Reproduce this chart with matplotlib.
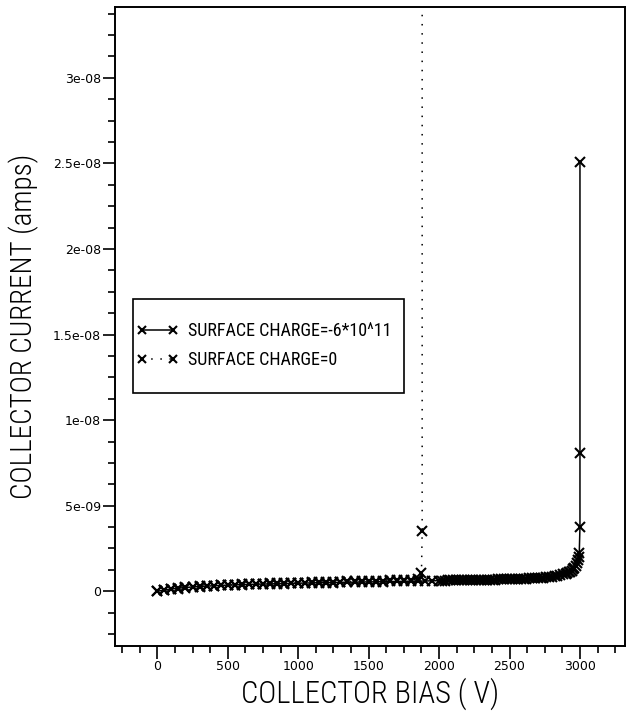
import matplotlib
matplotlib.use('Agg')
import matplotlib.pyplot as plt
from matplotlib.patches import Rectangle
from matplotlib.ticker import MultipleLocator, FixedLocator
import numpy as np

# collector bias (V) and collector current (amps)
bias_neg = [0, 50, 100, 150, 200, 250, 300, 350, 400, 450, 500, 550, 600, 650,
            700, 750, 800, 850, 900, 950, 1000, 1050, 1100, 1150, 1200, 1250,
            1300, 1350, 1400, 1450, 1500, 1550, 1600, 1650, 1700, 1750, 1800,
            1850, 1900, 1950, 2000, 2020, 2040, 2060, 2080, 2100, 2120, 2140,
            2160, 2180, 2200, 2220, 2240, 2260, 2280, 2300, 2320, 2340, 2360,
            2380, 2400, 2420, 2440, 2460, 2480, 2500, 2520, 2540, 2560, 2580,
            2600, 2620, 2640, 2660, 2680, 2700, 2720, 2740, 2760, 2780, 2800,
            2820, 2840, 2860, 2880, 2900, 2910, 2920, 2930, 2940, 2950, 2960,
            2970, 2980, 2985, 2990, 2995, 3000, 3000, 3000]
cur_neg = [0.00, 0.07, 0.13, 0.18, 0.22, 0.25, 0.28, 0.30, 0.32, 0.34, 0.36,
           0.37, 0.39, 0.40, 0.41, 0.42, 0.43, 0.44, 0.45, 0.46, 0.47, 0.48,
           0.49, 0.50, 0.50, 0.51, 0.52, 0.53, 0.53, 0.54, 0.55, 0.55, 0.56,
           0.57, 0.57, 0.58, 0.59, 0.59, 0.60, 0.61, 0.62, 0.62, 0.62, 0.63,
           0.63, 0.63, 0.64, 0.64, 0.64, 0.65, 0.65, 0.65, 0.66, 0.66, 0.66,
           0.67, 0.67, 0.67, 0.68, 0.68, 0.68, 0.69, 0.69, 0.70, 0.70, 0.71,
           0.71, 0.72, 0.72, 0.73, 0.74, 0.74, 0.75, 0.76, 0.77, 0.78, 0.79,
           0.80, 0.82, 0.84, 0.86, 0.88, 0.91, 0.94, 0.98, 1.03, 1.06, 1.10,
           1.15, 1.21, 1.28, 1.37, 1.50, 1.68, 1.82, 1.98, 2.25, 3.75, 8.10,
           25.10]
cur_neg = [c * 1e-9 for c in cur_neg]

bias_zero = [0, 50, 100, 150, 200, 250, 300, 350, 400, 450, 500, 550, 600,
             650, 700, 750, 800, 850, 900, 950, 1000, 1050, 1100, 1150, 1200,
             1250, 1300, 1350, 1400, 1450, 1500, 1550, 1600, 1650, 1700, 1750,
             1800, 1850, 1875, 1880, 1880]
cur_zero = [0.00, 0.05, 0.11, 0.16, 0.20, 0.24, 0.27, 0.30, 0.33, 0.35, 0.37,
            0.39, 0.41, 0.42, 0.43, 0.45, 0.46, 0.47, 0.48, 0.49, 0.50, 0.51,
            0.52, 0.53, 0.54, 0.55, 0.56, 0.57, 0.58, 0.59, 0.60, 0.61, 0.62,
            0.63, 0.64, 0.65, 0.67, 0.70, 1.05, 3.50, 60.0]
cur_zero = [c * 1e-9 for c in cur_zero]

ytick_vals = [0, 5e-9, 1e-8, 1.5e-8, 2e-8, 2.5e-8, 3e-8]
ytick_labels = ['0', '5e-09', '1e-08', '1.5e-08', '2e-08', '2.5e-08', '3e-08']
xtick_vals = [0, 500, 1000, 1500, 2000, 2500, 3000]

narrow = ['Roboto Condensed', 'DejaVu Sans']

fig = plt.figure(figsize=(6.32, 7.11), dpi=100)
ax = fig.add_axes([0.182, 0.0914, 0.807, 0.899])

ax.plot(bias_neg, cur_neg, color='k', lw=1.1, marker='x', ms=7.5, mew=1.5,
        label='SURFACE CHARGE=-6*10^11')
ax.plot(bias_zero, cur_zero, color='k', lw=1.1, ls=(0, (1, 5)), marker='x',
        ms=7.5, mew=1.5, label='SURFACE CHARGE=0')

ax.set_xlim(-300, 3320)
ax.set_ylim(-3.2e-9, 3.415e-8)

ax.xaxis.set_major_locator(FixedLocator(xtick_vals))
ax.xaxis.set_minor_locator(MultipleLocator(125))
ax.set_yticks(ytick_vals)
ax.set_yticklabels(ytick_labels)
ax.yaxis.set_minor_locator(MultipleLocator(1.25e-9))

ax.tick_params(which='both', direction='out', top=False, right=False,
               width=1.2, labelsize=9)
ax.tick_params(which='major', length=9, pad=1)
ax.tick_params(which='minor', length=5)
for s in ax.spines.values():
    s.set_linewidth(1.4)

ax.set_xlabel('COLLECTOR BIAS ( V)', fontsize=22, family=narrow,
              weight='light', labelpad=3)
ax.set_ylabel('COLLECTOR CURRENT (amps)', fontsize=21, family=narrow,
              weight='light')
ax.yaxis.set_label_coords(-0.15, 0.5)

# legend entries without frame, box drawn separately so padding can differ
leg = ax.legend(loc='center left', bbox_to_anchor=(0.043, 0.470),
                prop={'family': narrow, 'size': 13}, frameon=False,
                handlelength=2.3, numpoints=2, handletextpad=0.5,
                markerscale=0.75, borderpad=0, labelspacing=0.6,
                borderaxespad=0)
ax.add_patch(Rectangle((0.0353, 0.396), 0.5314, 0.147, transform=ax.transAxes,
                       fill=False, edgecolor='k', lw=1.2, zorder=5))

fig.savefig('out.png', dpi=100)
